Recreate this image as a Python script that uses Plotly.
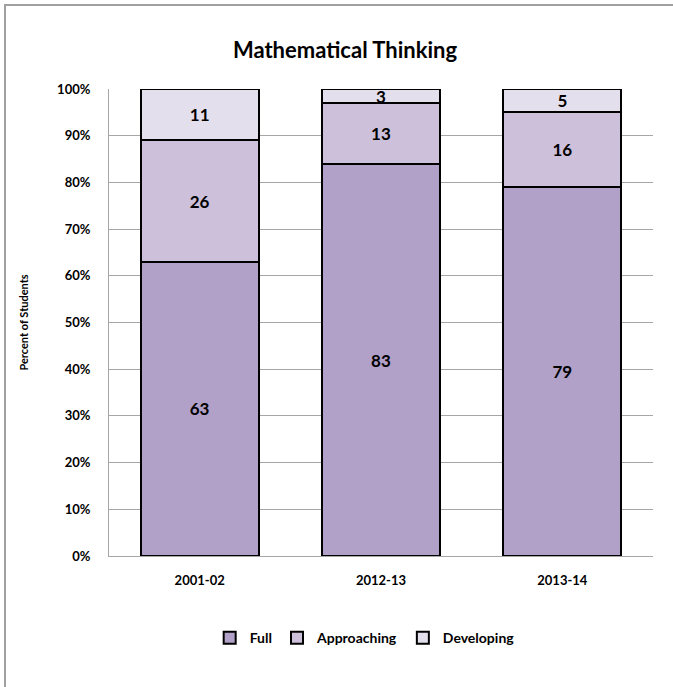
import plotly.graph_objects as go

years = ["2001-02", "2012-13", "2013-14"]
full = [63, 83, 79]
approaching = [26, 13, 16]
developing = [11, 3, 5]
series_names = ["Full", "Approaching", "Developing"]
colors = ["#B1A0C7", "#CCC0DA", "#E4DFEC"]
y_ticks = [0, 10, 20, 30, 40, 50, 60, 70, 80, 90, 100]

FONT = "Lato"

L, T, W, H = 109, 89, 544, 467

fig = go.Figure()
for name, vals, col in zip(series_names, [full, approaching, developing], colors):
    fig.add_trace(go.Bar(
        x=years, y=vals, name=name,
        marker=dict(color=col, line=dict(color="black", width=2)),
        text=[str(v) for v in vals],
        textposition="inside", insidetextanchor="middle", textangle=0,
        textfont=dict(family=FONT, size=17, color="black", weight="bold"),
        cliponaxis=False,
    ))

fig.update_layout(
    width=673, height=687,
    barmode="stack", barnorm="percent", bargap=0.35,
    paper_bgcolor="white", plot_bgcolor="white",
    margin=dict(l=L, r=673 - L - W, t=T, b=687 - T - H, autoexpand=False),
    font=dict(family=FONT, color="black"),
    uniformtext=dict(minsize=17, mode="show"),
    title=dict(text="<b>Mathematical Thinking</b>", x=345 / 673, xanchor="center",
               y=1 - 50 / 687, yanchor="middle", yref="container",
               font=dict(family=FONT, size=22, color="black")),
    legend=dict(orientation="h", x=0.47, xanchor="center", y=-0.176, yanchor="middle",
                font=dict(family=FONT, size=14, color="black", weight="bold"),
                traceorder="normal", itemwidth=30),
    showlegend=True,
)
fig.update_yaxes(
    range=[0, 100], tickvals=y_ticks, ticktext=[f"{v}%" for v in y_ticks],
    showgrid=True, gridcolor="#A6A6A6", gridwidth=1,
    showline=True, linecolor="#A6A6A6", linewidth=1,
    ticks="", ticklabelstandoff=15,
    tickfont=dict(family=FONT, size=13, color="black", weight="bold"),
    title=dict(text="<b>Percent of Students</b>", font=dict(family=FONT, size=11, color="black"), standoff=26),
    zeroline=False, automargin=False,
)
fig.update_xaxes(
    type="category",
    showline=True, linecolor="#A6A6A6", linewidth=1,
    ticks="", ticklabelstandoff=12,
    tickfont=dict(family=FONT, size=13, color="black", weight="bold"),
    automargin=False,
)
fig.add_shape(type="rect", xref="paper", yref="paper",
              x0=(5 - L) / W, x1=(690 - L) / W,
              y0=(556 - 700) / H, y1=(556 - 5) / H,
              line=dict(color="#A0A0A0", width=2), layer="below")

fig.write_html("out.html",
               config={"displayModeBar": False},
               post_script="document.body.style.margin='0';document.body.style.padding='0';")
